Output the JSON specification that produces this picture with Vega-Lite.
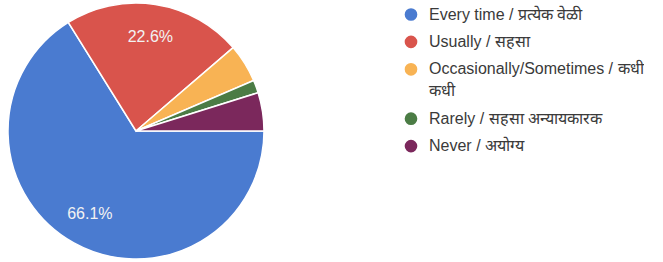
{
  "$schema": "https://vega.github.io/schema/vega-lite/v6.json",
  "width": 272,
  "height": 262,
  "padding": 0,
  "background": "white",
  "view": {"stroke": null},
  "config": {"font": "Liberation Sans"},
  "data": {"values": [
    {"category": "Every time / प्रत्येक वेळी", "count": 41, "order": 1, "label": "66.1%"},
    {"category": "Usually / सहसा", "count": 14, "order": 2, "label": "22.6%"},
    {"category": "Occasionally/Sometimes / कधी कधी", "count": 3, "order": 3, "label": ""},
    {"category": "Rarely / सहसा अन्यायकारक", "count": 1, "order": 4, "label": ""},
    {"category": "Never / अयोग्य", "count": 3, "order": 5, "label": ""}
  ]},
  "encoding": {
    "theta": {"field": "count", "type": "quantitative", "stack": true, "scale": {"range": [1.5708, 7.8540]}},
    "order": {"field": "order", "type": "quantitative"},
    "color": {
      "field": "category",
      "type": "nominal",
      "sort": ["Every time / प्रत्येक वेळी", "Usually / सहसा", "Occasionally/Sometimes / कधी कधी", "Rarely / सहसा अन्यायकारक", "Never / अयोग्य"],
      "scale": {
        "domain": ["Every time / प्रत्येक वेळी", "Usually / सहसा", "Occasionally/Sometimes / कधी कधी", "Rarely / सहसा अन्यायकारक", "Never / अयोग्य"],
        "range": ["#4a7bd0", "#d9544c", "#f8b354", "#4b7c45", "#7b285c"]
      },
      "legend": {
        "title": null,
        "orient": "none",
        "legendX": 403,
        "legendY": 6.5,
        "padding": 0,
        "symbolType": "circle",
        "symbolSize": 160,
        "symbolStrokeWidth": 0,
        "symbolOpacity": 1,
        "labelFontSize": 16,
        "labelColor": "#3a3a3a",
        "labelOffset": 10,
        "labelLimit": 300,
        "rowPadding": 11.4,
        "labelExpr": "datum.label == 'Occasionally/Sometimes / कधी कधी' ? ['Occasionally/Sometimes / कधी', 'कधी'] : datum.label",
        "encoding": {
          "labels": {
            "lineHeight": {"value": 22}
          }
        }
      }
    }
  },
  "layer": [
    {"mark": {"type": "arc", "outerRadius": 128, "stroke": "white", "strokeWidth": 1.5}},
    {
      "mark": {"type": "text", "radius": 95, "fontSize": 16},
      "encoding": {
        "text": {"field": "label"},
        "color": {"value": "#f2f2f2"}
      }
    }
  ]
}
